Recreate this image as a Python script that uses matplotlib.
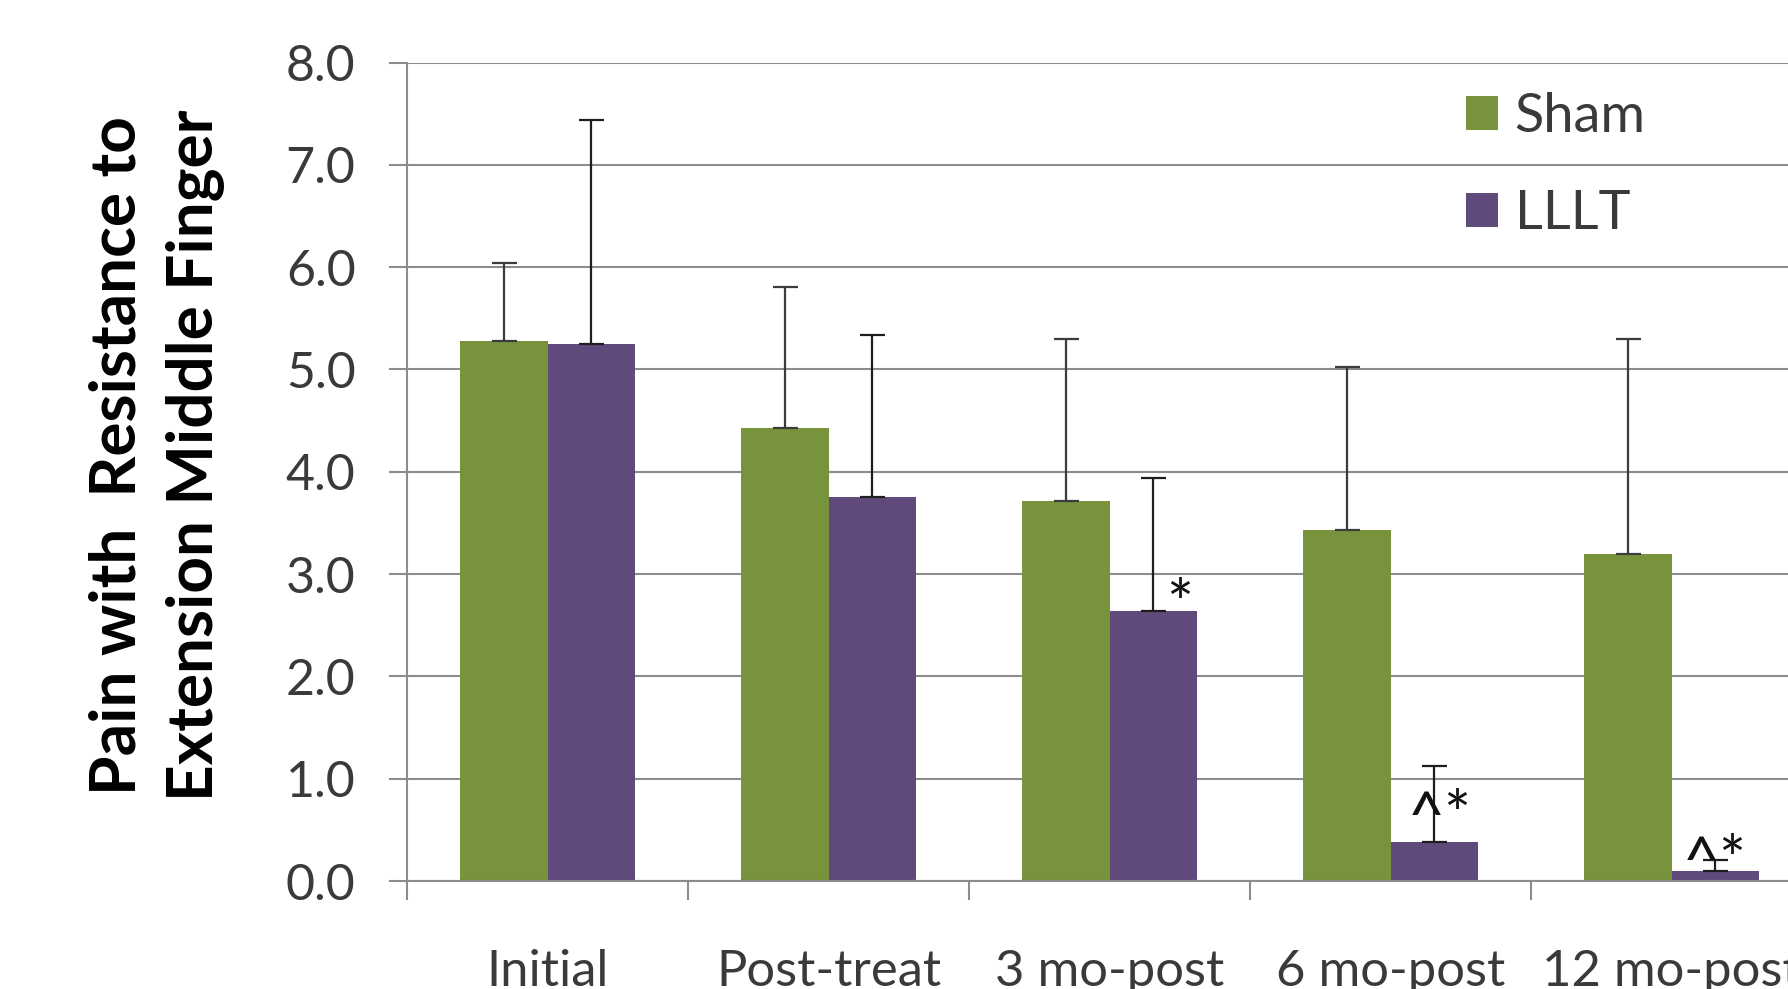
import matplotlib
matplotlib.use("Agg")
import matplotlib.pyplot as plt
import numpy as np

# Pain with resistance to extension of the middle finger, by visit
categories = ["Initial", "Post-treat", "3 mo-post", "6 mo-post", "12 mo-post"]
sham_mean = [5.28, 4.43, 3.71, 3.43, 3.20]
sham_err = [0.76, 1.38, 1.59, 1.59, 2.10]
lllt_mean = [5.25, 3.75, 2.64, 0.38, 0.10]
lllt_err = [2.19, 1.59, 1.30, 0.74, 0.11]
lllt_marks = ["", "", "*", "^*", "^*"]
y_ticks = [0.0, 1.0, 2.0, 3.0, 4.0, 5.0, 6.0, 7.0, 8.0]

GREEN = "#77933C"
PURPLE = "#604A7B"
GRID = "#8C8C8C"
TEXT = "#3A3A3A"
FONT = ["Lato", "DejaVu Sans"]

plt.rcParams["font.family"] = FONT

W, H = 1788, 989
fig = plt.figure(figsize=(W / 100, H / 100), dpi=100)
fig.patch.set_facecolor("white")

# plot area: the right end of the last category runs past the figure edge
left_px, right_px, top_px, bottom_px = 407, 1812, 62.5, 881
ax = fig.add_axes([left_px / W, 1 - bottom_px / H,
                   (right_px - left_px) / W, (bottom_px - top_px) / H])

x = np.arange(len(categories))
bw = 0.31

ax.bar(x - bw / 2, sham_mean, bw, color=GREEN, label="Sham", zorder=2)
ax.bar(x + bw / 2, lllt_mean, bw, color=PURPLE, label="LLLT", zorder=2)

zeros = np.zeros(len(categories))
ax.errorbar(x - bw / 2, sham_mean, yerr=[zeros, sham_err], fmt="none",
            ecolor="#3C3C3C", elinewidth=1.6, capsize=9, capthick=1.6, zorder=3)
ax.errorbar(x + bw / 2, lllt_mean, yerr=[zeros, lllt_err], fmt="none",
            ecolor="#1E1E1E", elinewidth=1.6, capsize=9, capthick=1.6, zorder=3)

# significance marks beside / above the LLLT bars
mark_dx = [0, 0, 0.096, 0.02, 0.0]
mark_dy = [0, 0, 0.03, 0.23, 0.07]
for i, m in enumerate(lllt_marks):
    if m:
        ax.text(x[i] + bw / 2 + mark_dx[i], lllt_mean[i] + mark_dy[i], m,
                ha="center", va="center", fontsize=46, color="#111111", zorder=4)

ax.set_xlim(-0.5, len(categories) - 0.5)
ax.set_ylim(0, 8)
ax.set_yticks(y_ticks)
ax.set_yticklabels([f"{v:.1f}" for v in y_ticks])
ax.yaxis.grid(True, color=GRID, linewidth=1.5)
ax.set_axisbelow(True)

ax.set_xticks(np.arange(len(categories) + 1) - 0.5)
ax.set_xticklabels([])
ax.set_xticks(x, minor=True)
ax.set_xticklabels(categories, minor=True)

ax.tick_params(axis="y", direction="out", length=13, width=1.5, color=GRID,
               labelsize=36, labelcolor=TEXT, pad=24)
ax.tick_params(axis="x", which="major", direction="out", length=14, width=1.5,
               color=GRID)
ax.tick_params(axis="x", which="minor", length=0, labelsize=36.5,
               labelcolor=TEXT, pad=49)

for s in ["top", "right"]:
    ax.spines[s].set_visible(False)
for s in ["left", "bottom"]:
    ax.spines[s].set_color(GRID)
    ax.spines[s].set_linewidth(1.5)

ax.set_ylabel("Pain with  Resistance to\nExtension Middle Finger",
              fontsize=46, fontweight="bold", color="black",
              linespacing=1.42)
ax.yaxis.set_label_coords(-0.13, 0.52)

leg = ax.legend(loc="center left", bbox_to_anchor=(1466 / W, 1 - 165 / H),
                bbox_transform=fig.transFigure, frameon=False, fontsize=39,
                handlelength=0.59, handleheight=0.59, handletextpad=0.31,
                labelspacing=0.88, borderpad=0, borderaxespad=0)
for t in leg.get_texts():
    t.set_color(TEXT)

fig.savefig("out.png", dpi=100, facecolor="white")
